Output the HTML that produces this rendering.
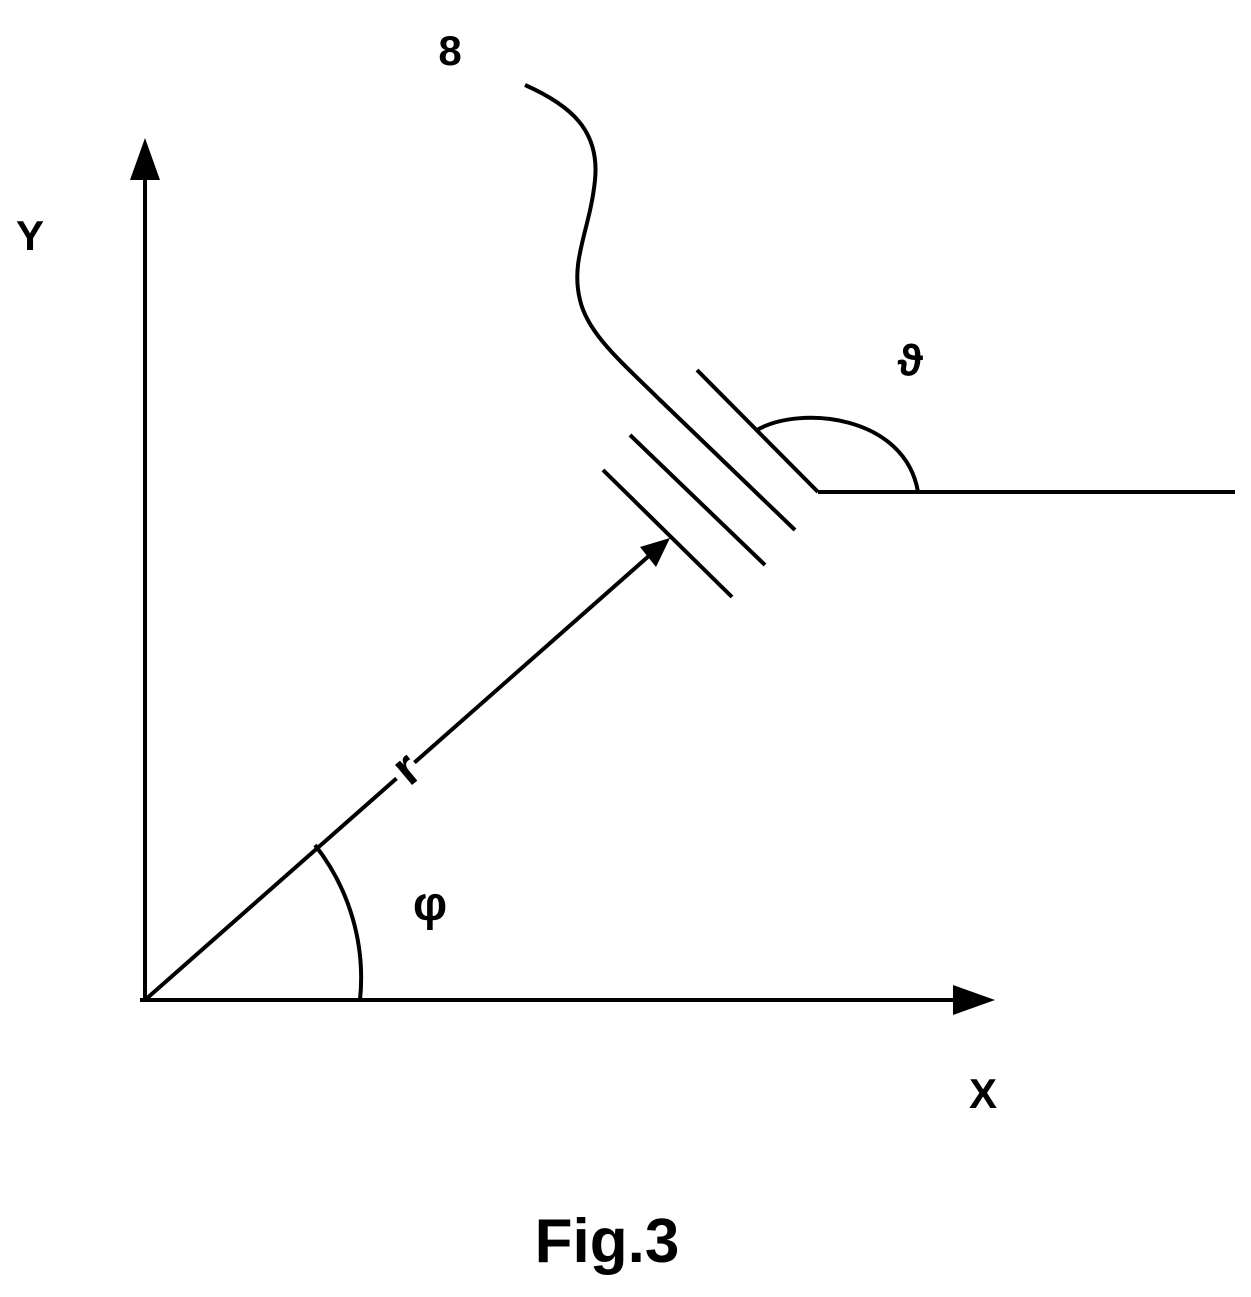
<!DOCTYPE html>
<html><head><meta charset="utf-8"><style>
html,body{margin:0;padding:0;background:#fff;}
svg{display:block;}
text{font-family:"Liberation Sans","DejaVu Sans",sans-serif;font-weight:bold;fill:#000;}
</style></head><body>
<svg width="1251" height="1297" viewBox="0 0 1251 1297" xmlns="http://www.w3.org/2000/svg">
<g stroke="#000" stroke-width="4" fill="none" stroke-linecap="butt">
<line x1="145" y1="1000" x2="145" y2="170"/>
<line x1="140" y1="1000" x2="965" y2="1000"/>
<line x1="145" y1="1000" x2="650" y2="555"/>
<path d="M360,1000 A215,215 0 0 0 315,845"/>
<line x1="603" y1="470" x2="732" y2="597"/>
<line x1="630" y1="435" x2="765" y2="565"/>
<line x1="660" y1="400" x2="795" y2="530"/>
<line x1="697" y1="370" x2="818" y2="492"/>
<line x1="818" y1="492" x2="1235" y2="492"/>
<path d="M757,430 C800,405 905,415 918,492"/>
<path d="M525,85 C570,105 600,130 595,180 C590,230 570,260 580,300 C588,335 625,365 662,402"/>
</g>
<rect x="393" y="757" width="24" height="26" fill="#fff" transform="rotate(-41 405 770)"/>
<polygon points="145,138 130,180 160,180" fill="#000"/>
<polygon points="995,1000 953,985 953,1015" fill="#000"/>
<polygon points="670,538 640,547 656,567" fill="#000"/>
<text x="30" y="250" font-size="42" text-anchor="middle">Y</text>
<text x="983" y="1108" font-size="42" text-anchor="middle">X</text>
<text x="450" y="65" font-size="42" text-anchor="middle">8</text>
<text x="910" y="375" font-size="44" text-anchor="middle">ϑ</text>
<text x="430" y="920" font-size="48" text-anchor="middle">φ</text>
<text x="407" y="786" font-size="50" text-anchor="middle" transform="rotate(-40 405 770)">r</text>
<text x="607" y="1262" font-size="62" text-anchor="middle">Fig.3</text>
</svg>
</body></html>
